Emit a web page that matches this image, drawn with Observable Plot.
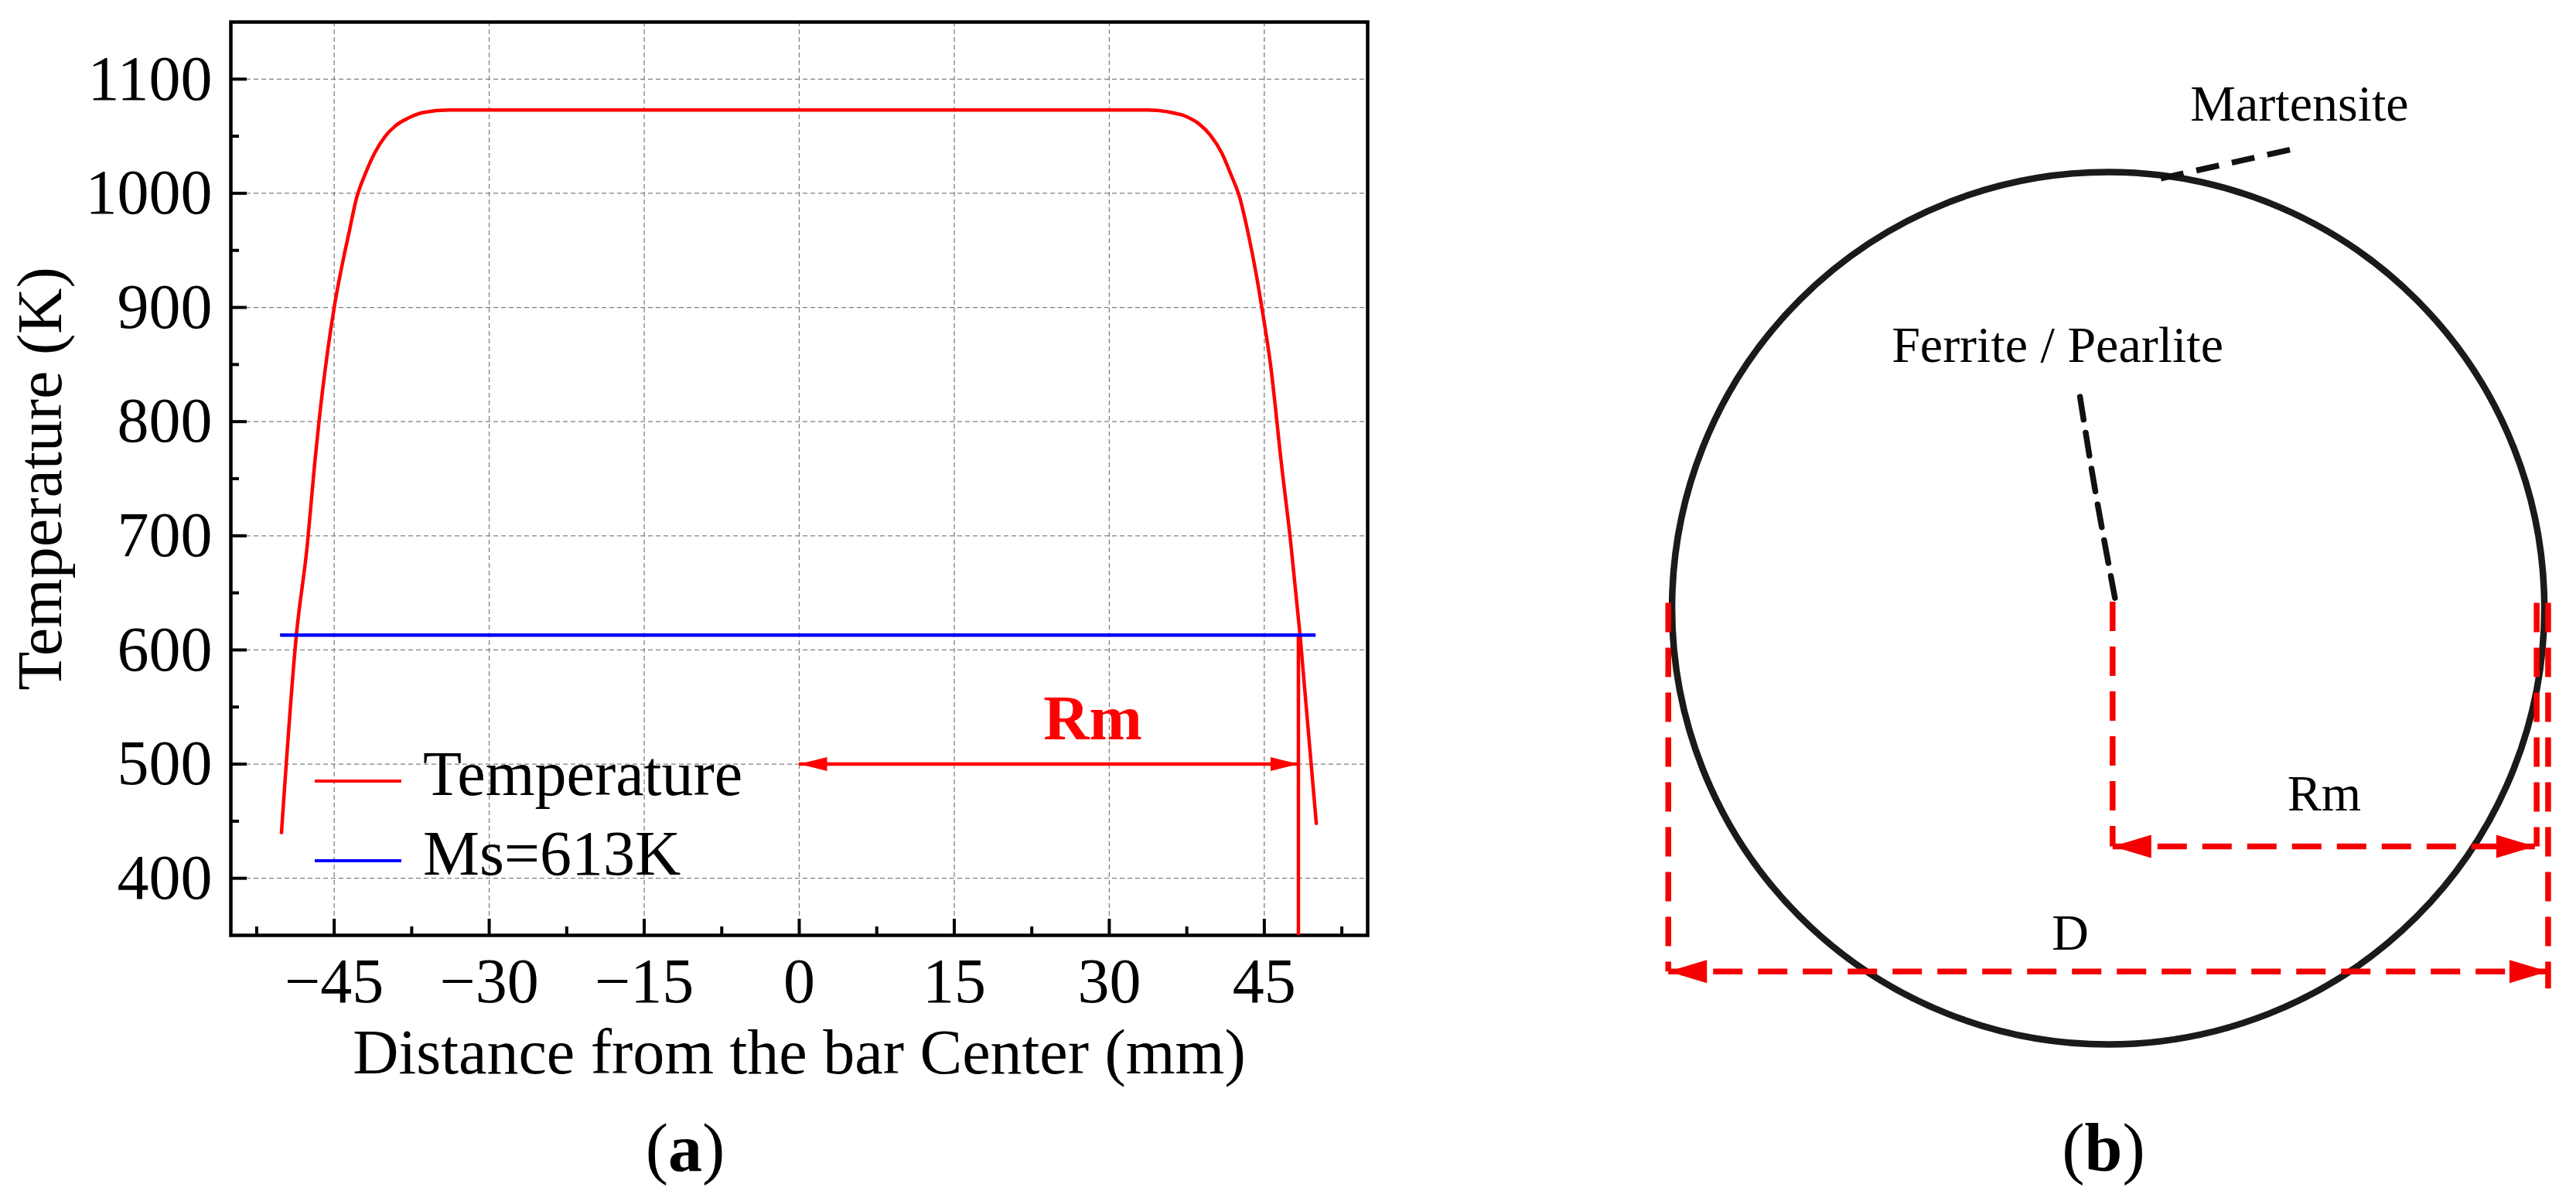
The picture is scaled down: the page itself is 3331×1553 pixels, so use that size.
<!DOCTYPE html>
<html>
<head>
<meta charset="utf-8">
<script src="https://cdn.jsdelivr.net/npm/d3@7"></script>
<script src="https://cdn.jsdelivr.net/npm/@observablehq/plot@0.6"></script>
<style>
html, body { margin: 0; padding: 0; background: #fff; }
#page { position: relative; width: 3331px; height: 1553px; overflow: hidden; background: #fff;
  font-family: "Liberation Serif", "Times New Roman", serif; color: #000; }
.abs { position: absolute; white-space: nowrap; }
.swatch { position: absolute; height: 4.5px; }
</style>
</head>
<body>
<div id="page">
  <div id="panelA" class="abs" style="left:0;top:0"></div>
  <div id="panelB" class="abs" style="left:2000px;top:0"></div>
</div>
<script>
// ---------------- Panel (a) data ----------------
const distanceMm   = [-50.1, -48.66, -47.6, -46.9, -46.47, -45.0, -44.1, -43.6, -42.86, -41.95, -41.1, -40.1, -38.95, -37.8, -36.4, -33.9,
                      33.7, 35.6, 37.5, 38.65, 39.8, 40.9, 41.7, 42.66, 43.4, 44.2, 44.76, 45.6, 46.67, 47.55, 48.46, 50.03];
const temperatureK = [440, 613, 692, 762, 800, 900, 943, 964, 995, 1018, 1035, 1049.5, 1060, 1066, 1070.7, 1073,
                      1073, 1071.5, 1067, 1061, 1050.7, 1035, 1018, 995, 966.5, 930, 900, 850, 762, 694.5, 613, 448];
const msTemperature = 613;
const msExtent = [-50.2, 50.0];
const rmDistance = 48.3;
const rmArrowTemperature = 500;
const rmLabelPos = [{x: 28.4, y: 522, text: "Rm"}];
const xDomain = [-55, 55];
const yDomain = [350, 1150];
const xTicksMajor = [-45, -30, -15, 0, 15, 30, 45];
const xTicksMinor = [-52.5, -37.5, -22.5, -7.5, 7.5, 22.5, 37.5, 52.5];
const yTicksMajor = [400, 500, 600, 700, 800, 900, 1000, 1100];
const yTicksMinor = [450, 550, 650, 750, 850, 950, 1050];
const legendLabels = ["Temperature", "Ms=613K"];
const legendColors = ["#ff0000", "#0000ff"];
const xTitle = "Distance from the bar Center (mm)";
const yTitle = "Temperature (K)";

// ---------------- Panel (b) data (schematic, mm) ----------------
const barRadius = 50;
const schematicRm = 48.4;
const redDashed = [
  {x1: 0.5, y1: 0.76, x2: 0.5, y2: -27.6},
  {x1: 0.5, y1: -27.6, x2: schematicRm, y2: -27.6},
  {x1: 48.6, y1: 0.63, x2: 48.6, y2: -27.6},
  {x1: 49.9, y1: 0.63, x2: 49.9, y2: -44.05},
  {x1: -49.9, y1: 0.63, x2: -49.9, y2: -42.1},
  {x1: -49.9, y1: -42.1, x2: 49.9, y2: -42.1}
];
const headsLeft  = [{x: 0.5, y: -27.6}, {x: -49.9, y: -42.1}];
const headsRight = [{x: schematicRm, y: -27.6}, {x: 49.9, y: -42.1}];
const ferriteLeader = [{x: -3.2, y: 24.5}, {x: -1.47, y: 13.6}, {x: 0.76, y: 1.2}];
const martensiteLeader = [{x: 5.97, y: 49.8}, {x: 21.8, y: 53.4}];
const schematicLabels = [
  {x: 21.7, y: 56.5, text: "Martensite"},
  {x: -5.75, y: 28.5, text: "Ferrite / Pearlite"},
  {x: 24.5, y: -23.4, text: "Rm"},
  {x: -4.3, y: -39.6, text: "D"}
];

// ---------------- helpers ----------------
const FONT = '"Liberation Serif", "Times New Roman", serif';
const fmt = d => d < 0 ? "\u2212" + Math.abs(d) : String(d);
const headRight = (L, H) => ({draw(ctx) { ctx.moveTo(0, 0); ctx.lineTo(-L, -H / 2); ctx.lineTo(-L, H / 2); ctx.closePath(); }});
const headLeft  = (L, H) => ({draw(ctx) { ctx.moveTo(0, 0); ctx.lineTo(L, -H / 2); ctx.lineTo(L, H / 2); ctx.closePath(); }});

// ---------------- Panel (a) ----------------
const A = {w: 1800, h: 1450, ml: 298, mr: 32, mt: 28, mb: 241};
const innerW = A.w - A.ml - A.mr;
const innerH = A.h - A.mt - A.mb;
const tempData = distanceMm.map((x, i) => ({x, y: temperatureK[i]}));
const gridStyle = {stroke: "#808080", strokeOpacity: 1, strokeWidth: 1.3, strokeDasharray: "6,4"};

const plotA = Plot.plot({
  width: A.w, height: A.h,
  marginLeft: A.ml, marginRight: A.mr, marginTop: A.mt, marginBottom: A.mb,
  style: {fontFamily: FONT, fontSize: "82px", background: "transparent", color: "#000"},
  x: {domain: xDomain, ticks: xTicksMajor, tickFormat: fmt, tickSize: 0, tickPadding: 28, label: null},
  y: {domain: yDomain, ticks: yTicksMajor, tickFormat: fmt, tickSize: 0, tickPadding: 24, label: null},
  marks: [
    Plot.ruleX(xTicksMajor, {x: d => d, ...gridStyle}),
    Plot.ruleY(yTicksMajor, {y: d => d, ...gridStyle}),
    Plot.ruleX(xTicksMajor, {x: d => d, stroke: "#000", strokeWidth: 4, insetTop: innerH - 21}),
    Plot.ruleX(xTicksMinor, {x: d => d, stroke: "#000", strokeWidth: 4, insetTop: innerH - 11}),
    Plot.ruleY(yTicksMajor, {y: d => d, stroke: "#000", strokeWidth: 4, insetRight: innerW - 21}),
    Plot.ruleY(yTicksMinor, {y: d => d, stroke: "#000", strokeWidth: 4, insetRight: innerW - 11}),
    Plot.frame({stroke: "#000", strokeWidth: 4.5}),
    Plot.line(tempData, {x: "x", y: "y", stroke: legendColors[0], strokeWidth: 4.5, curve: "monotone-x"}),
    Plot.ruleX([rmDistance], {x: d => d, y1: msTemperature, y2: yDomain[0], stroke: legendColors[0], strokeWidth: 4.5}),
    Plot.ruleY([msTemperature], {y: d => d, x1: msExtent[0], x2: msExtent[1], stroke: legendColors[1], strokeWidth: 4.5}),
    Plot.ruleY([rmArrowTemperature], {y: d => d, x1: 0, x2: rmDistance, stroke: legendColors[0], strokeWidth: 4.6}),
    Plot.dot([{x: 0, y: rmArrowTemperature}], {x: "x", y: "y", symbol: headLeft(36, 18), fill: legendColors[0], stroke: "none"}),
    Plot.dot([{x: rmDistance, y: rmArrowTemperature}], {x: "x", y: "y", symbol: headRight(36, 18), fill: legendColors[0], stroke: "none"}),
    Plot.text(rmLabelPos, {x: "x", y: "y", text: "text", fill: legendColors[0], fontWeight: "bold", fontSize: 82, lineAnchor: "bottom"}),
    Plot.text([xTitle], {text: d => d, frameAnchor: "bottom", textAnchor: "middle", dy: 178, lineAnchor: "bottom", fontSize: 82}),
    Plot.text([yTitle], {text: d => d, frameAnchor: "left", textAnchor: "middle", dx: -220, rotate: -90, lineAnchor: "bottom", fontSize: 82})
  ]
});
document.getElementById("panelA").appendChild(plotA);

// ---------------- Panel (b) ----------------
const B = {w: 1331, h: 1400, sx: 11.4, sy: 11.16, cx: 725.6, cy: 786};
const red = "#f40000";
const plotB = Plot.plot({
  width: B.w, height: B.h,
  marginLeft: 0, marginRight: 0, marginTop: 0, marginBottom: 0,
  style: {fontFamily: FONT, fontSize: "66px", background: "transparent", color: "#000"},
  x: {domain: [-B.cx / B.sx, (B.w - B.cx) / B.sx], axis: null},
  y: {domain: [-(B.h - B.cy) / B.sy, B.cy / B.sy], axis: null},
  r: {type: "linear", domain: [0, barRadius], range: [0, 564]},
  marks: [
    Plot.dot([{x: 0, y: 0, r: barRadius}], {x: "x", y: "y", r: "r", fill: "none", stroke: "#1a1a1a", strokeWidth: 8.5}),
    Plot.line(ferriteLeader, {x: "x", y: "y", stroke: "#111", strokeWidth: 7.5, strokeDasharray: "30,17", curve: "catmull-rom"}),
    Plot.link(martensiteLeader.slice(0, 1), {x1: "x", y1: "y", x2: () => martensiteLeader[1].x, y2: () => martensiteLeader[1].y, stroke: "#111", strokeWidth: 7.5, strokeDasharray: "30,17"}),
    Plot.link(redDashed, {x1: "x1", y1: "y1", x2: "x2", y2: "y2", stroke: red, strokeWidth: 7.5, strokeDasharray: "38,20"}),
    Plot.dot(headsLeft, {x: "x", y: "y", symbol: headLeft(50, 30), fill: red, stroke: "none"}),
    Plot.dot(headsRight, {x: "x", y: "y", symbol: headRight(50, 30), fill: red, stroke: "none"}),
    Plot.text(schematicLabels, {x: "x", y: "y", text: "text", fontSize: 66, lineAnchor: "bottom", fill: "#000"})
  ]
});
document.getElementById("panelB").appendChild(plotB);

// ---------------- Legend and captions (HTML) ----------------
const page = document.getElementById("page");
function addText(html, left, baseline, size, center) {
  const d = document.createElement("div");
  d.className = "abs";
  d.style.fontSize = size + "px";
  d.style.lineHeight = size + "px";
  d.style.left = left + "px";
  d.style.top = (baseline - 0.8375 * size) + "px";
  if (center) d.style.transform = "translateX(-50%)";
  d.innerHTML = html;
  page.appendChild(d);
}
const legendRows = [1010, 1113];
legendLabels.forEach((label, i) => {
  const s = document.createElement("div");
  s.className = "swatch";
  s.style.left = "407px";
  s.style.width = "112px";
  s.style.top = (legendRows[i] - 2.25) + "px";
  s.style.background = legendColors[i];
  page.appendChild(s);
  addText(label, 547, legendRows[i] + 19, 82, false);
});
addText("(<b>a</b>)", 886, 1515, 88, true);
addText("(<b>b</b>)", 2720, 1515, 88, true);
</script>
</body>
</html>
